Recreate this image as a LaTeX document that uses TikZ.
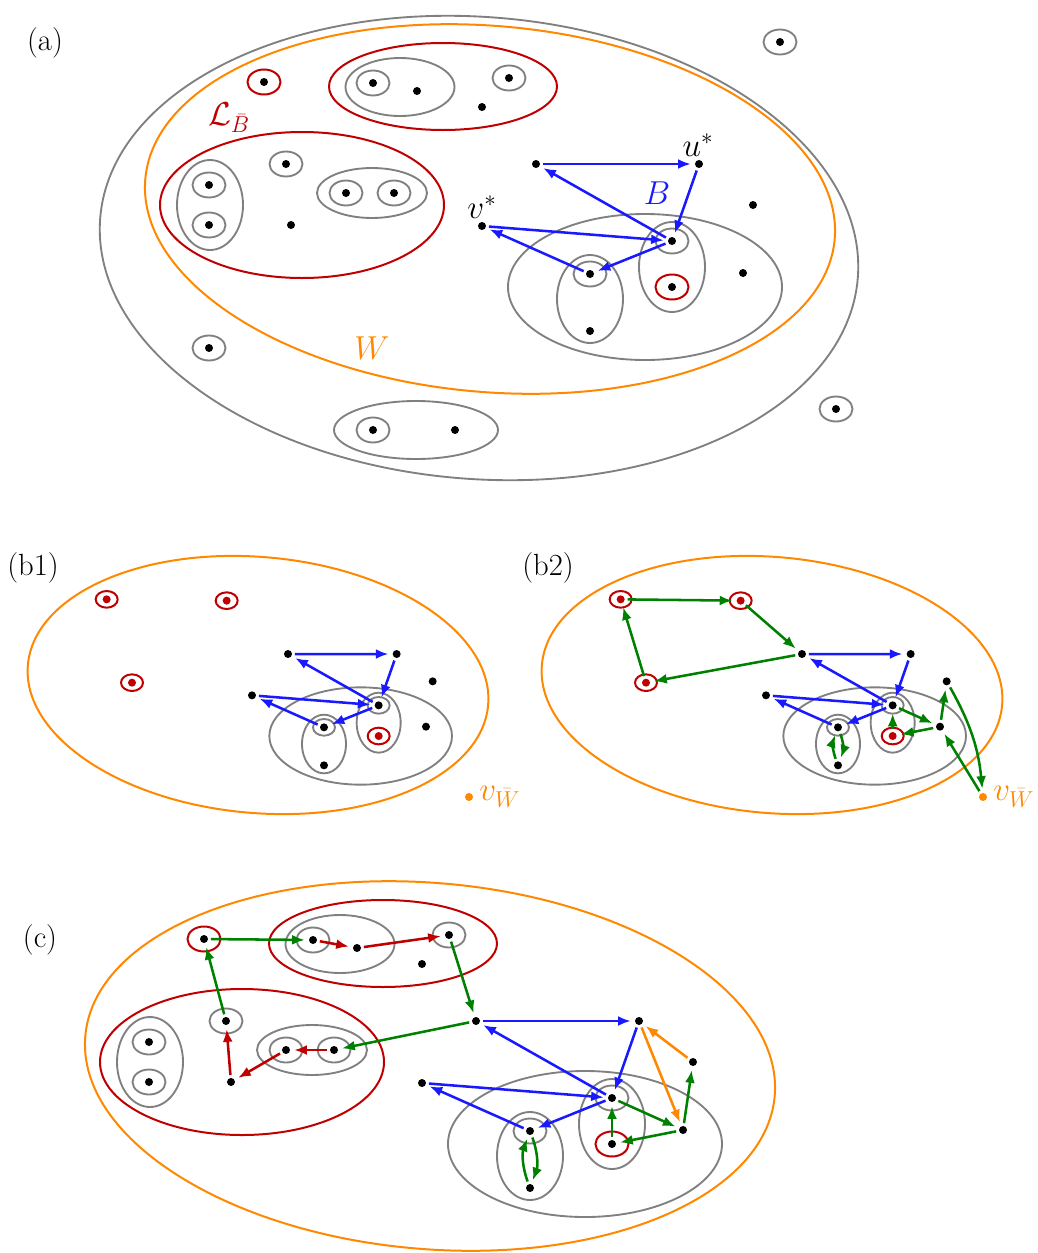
\documentclass[tikz,border=0pt]{standalone}
\usetikzlibrary{arrows.meta}
\definecolor{cgray}{RGB}{128,128,128}
\definecolor{cred}{RGB}{192,0,0}
\definecolor{corange}{RGB}{255,136,0}
\definecolor{cblue}{RGB}{25,25,255}
\definecolor{cgreen}{RGB}{0,128,0}
\tikzset{
 dot/.style={circle,fill=black,inner sep=0pt,minimum size=6pt},
 grayell/.style={draw=cgray,line width=1.4pt},
 redell/.style={draw=cred,line width=1.5pt},
 orell/.style={draw=corange,line width=1.5pt},
 arr/.style={-{Latex[length=9.5pt,width=7.5pt]},line width=1.9pt,shorten >=3pt,shorten <=2pt},
 barr/.style={arr,cblue},
 garr/.style={arr,cgreen},
 rarr/.style={arr,cred},
 oarr/.style={arr,corange},
 lab/.style={font=\fontsize{23}{27}\selectfont}
}
\newcommand\Bstruct[2]{%
 \path[grayell] (645,287) ellipse (137 and 73);
 \path[grayell] (672,267) ellipse (33 and 45);
 \path[grayell] (590,299) ellipse (33 and 44);
 \path[grayell] (672,241) ellipse (16.5 and 12.5);
 \path[grayell] (590,274) ellipse (16.5 and 12.5);
 \path[redell] (672,287) ellipse (16.5 and 12.5);
 \node[dot] (#1x) at (536,164) {};
 \node[dot] (#1u) at (699,164) {};
 \node[dot] (#1v) at (482,226) {};
 \node[dot] (#1w) at (672,241) {};
 \node[dot] (#1z) at (590,274) {};
 \node[dot] (#1y) at (590,331) {};
 \node[dot,fill=#2] (#1r) at (672,287) {};
 \node[dot] (#1t) at (743,273) {};
 \node[dot] (#1s) at (753,205) {};
 \draw[barr] (#1x) -- (#1u);
 \draw[barr] (#1u) -- (#1w);
 \draw[barr] (#1w) -- (#1x);
 \draw[barr] (#1v) -- (#1w);
 \draw[barr] (#1w) -- (#1z);
 \draw[barr] (#1z) -- (#1v);
}
\newcommand\Lstruct[1]{%
 \path[redell] (264,82) ellipse (16.5 and 12.5);
 \path[redell] (443,86.5) ellipse (114 and 43.5);
 \path[grayell] (400,87) ellipse (54.5 and 29);
 \path[grayell] (373,83) ellipse (16.5 and 12.5);
 \path[grayell] (509,78) ellipse (16.5 and 12.5);
 \path[redell] (302,205) ellipse (142 and 73);
 \path[grayell] (210,205) ellipse (33 and 45);
 \path[grayell] (209,185) ellipse (16.5 and 12.5);
 \path[grayell] (209,225) ellipse (16.5 and 12.5);
 \path[grayell] (286,164) ellipse (16.5 and 12.5);
 \path[grayell] (372,193) ellipse (55 and 25);
 \path[grayell] (346,193) ellipse (16.5 and 12.5);
 \path[grayell] (394,193) ellipse (16.5 and 12.5);
 \node[dot] (#1L1) at (264,82) {};
 \node[dot] (#1L2) at (373,83) {};
 \node[dot] (#1L3) at (417,91) {};
 \node[dot] (#1L4) at (509,78) {};
 \node[dot] (#1L5) at (482,107) {};
 \node[dot] (#1L6) at (209,185) {};
 \node[dot] (#1L7) at (209,225) {};
 \node[dot] (#1L8) at (286,164) {};
 \node[dot] (#1L9) at (346,193) {};
 \node[dot] (#1L10) at (394,193) {};
 \node[dot] (#1L11) at (291,225) {};
}
\newcommand\Bpanel[1]{%
 \path[orell,rotate around={-5:(491,210.5)}] (491,210.5) ellipse (346.5 and 192);
 \path[redell] (264,82) ellipse (16.5 and 12.5);
 \path[redell] (444,84) ellipse (16.5 and 12.5);
 \path[redell] (302,207) ellipse (16.5 and 12.5);
 \node[dot,fill=cred] (#1R1) at (264,82) {};
 \node[dot,fill=cred] (#1R2) at (444,84) {};
 \node[dot,fill=cred] (#1R3) at (302,207) {};
 \Bstruct{#1}{cred}
 \node[dot,fill=corange,label={[lab,corange,xshift=1pt]right:$v_{\bar W}$}] (#1vW) at (807.5,378.5) {};
}
\begin{document}
\begin{tikzpicture}[x=0.75pt,y=-0.75pt]
\useasboundingbox (0,0) rectangle (1038,1253);
% ---------- (a)
\node[lab] (la) at (45,43) {(a)};
\path[grayell,rotate around={-4.5:(479,248)}] (479,248) ellipse (380 and 231);
\path[orell,rotate around={-5:(490,209)}] (490,209) ellipse (346 and 183);
\Lstruct{a}
\Bstruct{a}{black}
\path[grayell] (780,42) ellipse (16.5 and 12.5);
\path[grayell] (209,348) ellipse (16.5 and 12.5);
\path[grayell] (836,409) ellipse (16.5 and 12.5);
\path[grayell] (416,430) ellipse (82 and 29);
\path[grayell] (373,430) ellipse (16.5 and 12.5);
\node[dot] (aO1) at (780,42) {};
\node[dot] (aO2) at (209,348) {};
\node[dot] (aO3) at (836,409) {};
\node[dot] (aO4) at (373,430) {};
\node[dot] (aO5) at (455,430) {};
\node[lab] (lu) at (698,145) {$u^*$};
\node[lab] (lv) at (482,207) {$v^*$};
\node[lab,cblue] (lB) at (657,193) {$B$};
\node[lab,cred] (lL) at (229,118) {$\mathcal{L}_{\bar B}$};
\node[lab,corange] (lW) at (372,348) {$W$};
% ---------- (b1)
\node[lab] (lb1) at (33,568) {(b1)};
\begin{scope}[shift={(-69.33,544.67)},scale=2/3]
\Bpanel{p}
\end{scope}
% ---------- (b2)
\node[lab] (lb2) at (548,568) {(b2)};
\begin{scope}[shift={(444.67,544.67)},scale=2/3]
\Bpanel{q}
\draw[garr] (qR1) -- (qR2);
\draw[garr] (qR2) -- (qx);
\draw[garr] (qx) -- (qR3);
\draw[garr] (qR3) -- (qR1);
\draw[garr] (qw) -- (qt);
\draw[garr] (qt) -- (qr);
\draw[garr] (qr) -- (qw);
\draw[garr] (qt) -- (qs);
\draw[garr] (qs) to[bend left=12] (qvW);
\draw[garr] (qvW) -- (qt);
\draw[garr] (qy) to[bend left=20] (qz);
\draw[garr] (qz) to[bend left=20] (qy);
\end{scope}
% ---------- (c)
\node[lab] (lc) at (40,940) {(c)};
\begin{scope}[shift={(-60,857)}]
\path[orell,rotate around={-5:(490,209)}] (490,209) ellipse (346 and 183);
\Lstruct{c}
\Bstruct{c}{black}
\draw[garr] (cL1) -- (cL2);
\draw[garr] (cL4) -- (cx);
\draw[garr] (cx) -- (cL10);
\draw[garr] (cL8) -- (cL1);
\draw[garr] (cw) -- (ct);
\draw[garr] (ct) -- (cr);
\draw[garr] (cr) -- (cw);
\draw[garr] (ct) -- (cs);
\draw[garr] (cy) to[bend left=20] (cz);
\draw[garr] (cz) to[bend left=20] (cy);
\draw[rarr] (cL2) -- (cL3);
\draw[rarr] (cL3) -- (cL4);
\draw[rarr] (cL10) -- (cL9);
\draw[rarr] (cL9) -- (cL11);
\draw[rarr] (cL11) -- (cL8);
\draw[oarr] (cs) -- (cu);
\draw[oarr] (cu) -- (ct);
\end{scope}
\end{tikzpicture}
\end{document}
